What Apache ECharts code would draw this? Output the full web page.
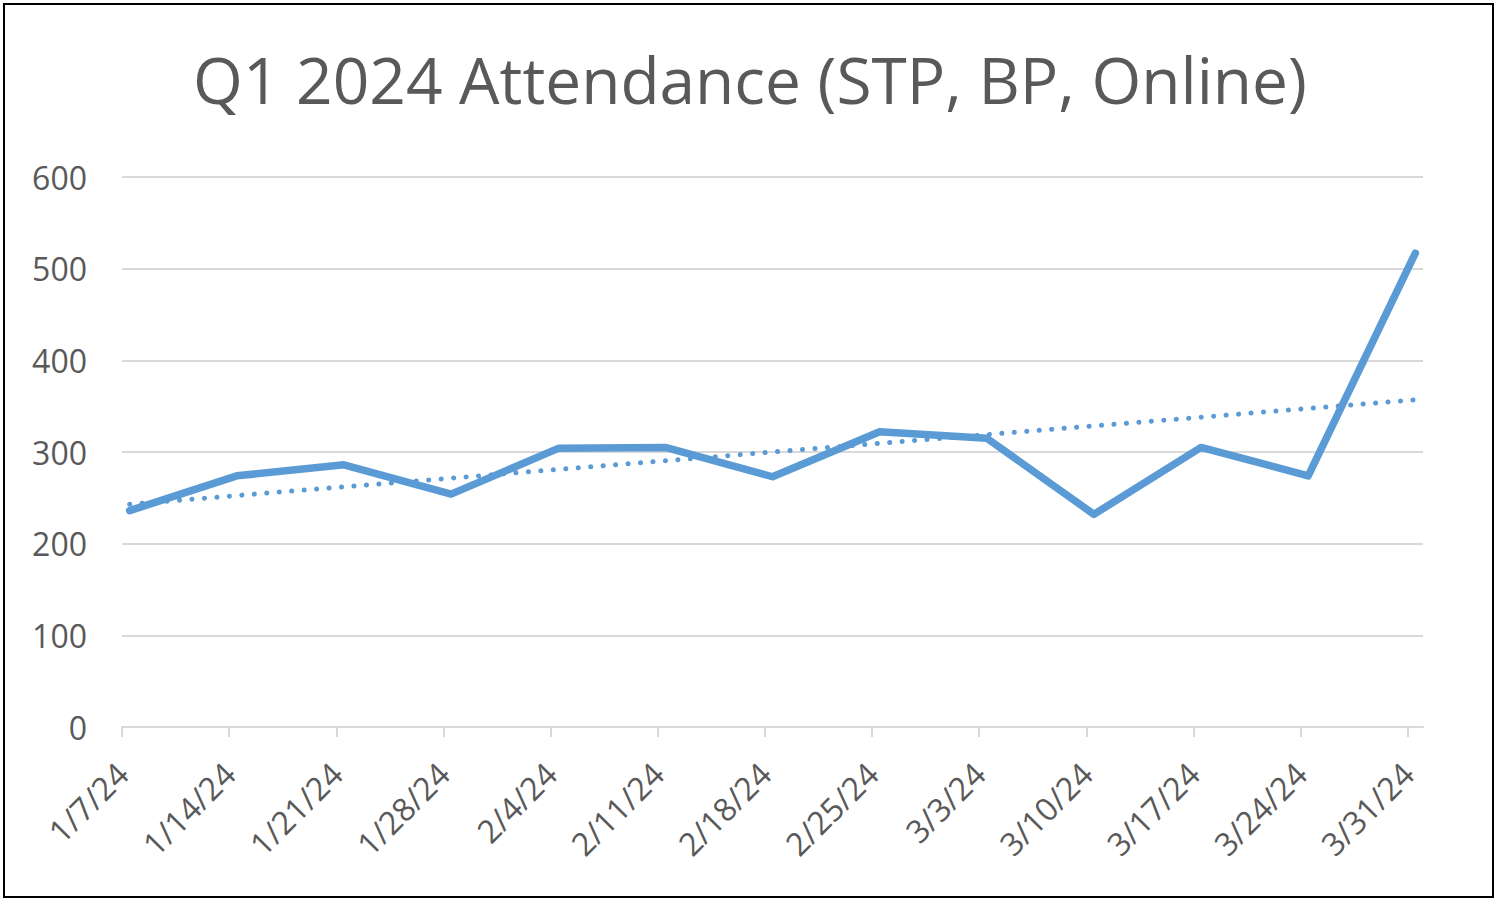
<!DOCTYPE html>
<html>
<head>
<meta charset="utf-8">
<title>Q1 2024 Attendance</title>
<script src="https://cdn.jsdelivr.net/npm/echarts@6/dist/echarts.min.js"></script>
<style>
  html, body { margin: 0; padding: 0; background: #fff; }
  #chart { width: 1500px; height: 905px; }
</style>
</head>
<body>
<div id="chart"></div>
<script>
// weekly dates (one point per Sunday)
const weeks = ["1/7/24", "1/14/24", "1/21/24", "1/28/24", "2/4/24", "2/11/24", "2/18/24",
  "2/25/24", "3/3/24", "3/10/24", "3/17/24", "3/24/24", "3/31/24"];
const attendance = [236, 274, 286, 254, 304, 305, 273, 322, 315, 232, 305, 274, 517];
// linear trendline, first and last week
const trendEnds = [243, 357];
const yTicks = [0, 100, 200, 300, 400, 500, 600];

const DAYS = 7;
// date axis: every week is a 7 day slot, the point sits in the middle of its day
const weekStart = weeks.map((w, i) => i * DAYS);
const lineData = weeks.map((w, i) => [weekStart[i] + 0.5, attendance[i]]);
const trendData = [
  [weekStart[0] + 0.5, trendEnds[0]],
  [weekStart[weeks.length - 1] + 0.5, trendEnds[1]]
];

const textColor = "#595959";
const blue = "#5b9bd5";
const font = "Open Sans";

const chart = echarts.init(document.getElementById("chart"), null, { renderer: "svg" });

chart.setOption({
  animation: false,
  backgroundColor: "#fff",
  title: {
    text: "Q1 2024 Attendance (STP, BP, Online)",
    left: "center",
    top: 42,
    textStyle: { fontFamily: font, fontSize: 64, fontWeight: "normal", color: textColor }
  },
  grid: { left: 122, right: 77, top: 177, bottom: 178, containLabel: false },
  xAxis: {
    type: "value",
    min: 0,
    max: weekStart[weeks.length - 1] + 1,
    interval: DAYS,
    axisLine: { show: true, lineStyle: { color: "#d9d9d9", width: 2 } },
    axisTick: {
      show: true, length: 10, customValues: weekStart,
      lineStyle: { color: "#d9d9d9", width: 2 }
    },
    splitLine: { show: false },
    axisLabel: {
      customValues: weekStart,
      rotate: 45,
      margin: 41,
      fontFamily: font,
      fontSize: 32,
      color: textColor,
      formatter: (v) => weeks[Math.round(v / DAYS)] || ""
    }
  },
  yAxis: {
    type: "value",
    min: yTicks[0],
    max: yTicks[yTicks.length - 1],
    interval: yTicks[1] - yTicks[0],
    axisLine: { show: false },
    axisTick: { show: false },
    splitLine: { lineStyle: { color: "#d9d9d9", width: 2 } },
    axisLabel: { margin: 35, fontFamily: font, fontSize: 32, color: textColor }
  },
  graphic: [{
    type: "rect",
    shape: { x: 4, y: 4, width: 1489, height: 893 },
    style: { fill: "none", stroke: "#000", lineWidth: 2 },
    silent: true
  }],
  series: [
    {
      name: "Attendance",
      type: "line",
      data: lineData,
      symbol: "none",
      lineStyle: { color: blue, width: 7.5, cap: "round", join: "round" },
      z: 3
    },
    {
      name: "Linear (Attendance)",
      type: "line",
      data: trendData,
      symbol: "none",
      lineStyle: { color: blue, width: 5, type: [0.1, 12.4], cap: "round" },
      z: 2
    }
  ]
});
</script>
</body>
</html>
